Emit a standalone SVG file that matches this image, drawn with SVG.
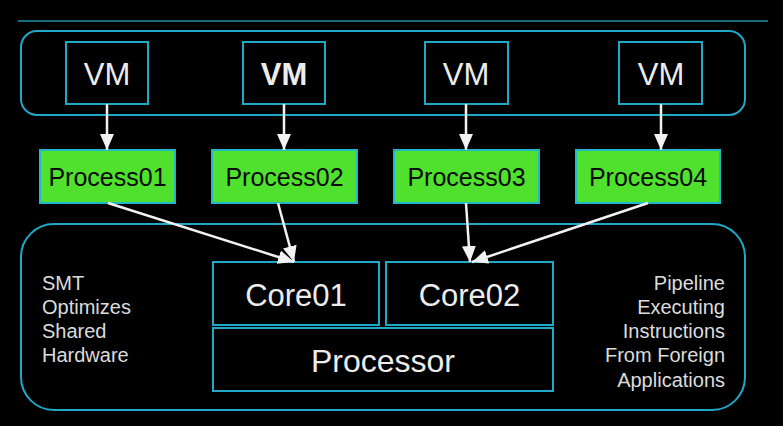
<svg xmlns="http://www.w3.org/2000/svg" width="783" height="426" viewBox="0 0 783 426">
<defs>
<marker id="ah" markerUnits="userSpaceOnUse" markerWidth="16" markerHeight="16" viewBox="0 0 16 14" refX="16" refY="7" orient="auto">
<path d="M0,0 L16,7 L0,14 Z" fill="#f2f2f2"/>
</marker>
<style>
.frame{fill:none;stroke:#20a8c8;stroke-width:2}
.box{fill:#000;stroke:#20a8c8;stroke-width:2}
.proc{fill:#50e02e;stroke:#1fb8c8;stroke-width:2}
.t{font-family:"Liberation Sans",Arial,sans-serif;fill:#ececec;text-anchor:middle}
.pt{font-family:"Liberation Sans",Arial,sans-serif;fill:#0a0a0a;text-anchor:middle;font-size:25px}
.side{font-family:"Liberation Sans",Arial,sans-serif;fill:#dcdcdc;font-size:20px}
.arr{stroke:#f2f2f2;stroke-width:2.5;fill:none;marker-end:url(#ah)}
</style>
</defs>
<rect width="783" height="426" fill="#000"/>
<line x1="18" y1="21" x2="768" y2="21" stroke="#1e8fa6" stroke-width="1.5"/>
<rect id="vm-group" class="frame" x="21" y="31" width="724" height="84" rx="16"/>
<rect id="cpu-group" class="frame" x="21" y="224" width="724" height="186" rx="33"/>
<g id="vm1"><rect class="box" x="66" y="42" width="82" height="62"/><text class="t" x="107" y="85" font-size="31">VM</text></g>
<g id="vm2"><rect class="box" x="243" y="42" width="82" height="62"/><text class="t" x="284" y="85" font-size="31" font-weight="bold">VM</text></g>
<g id="vm3"><rect class="box" x="425" y="42" width="83" height="62"/><text class="t" x="466" y="85" font-size="31">VM</text></g>
<g id="vm4"><rect class="box" x="619" y="42" width="83" height="62"/><text class="t" x="661" y="85" font-size="31">VM</text></g>
<g id="p1"><rect class="proc" x="40" y="150" width="135" height="53"/><text class="pt" x="107.5" y="186">Process01</text></g>
<g id="p2"><rect class="proc" x="212" y="150" width="145" height="53"/><text class="pt" x="284.5" y="186">Process02</text></g>
<g id="p3"><rect class="proc" x="394" y="150" width="145" height="53"/><text class="pt" x="466.5" y="186">Process03</text></g>
<g id="p4"><rect class="proc" x="576" y="150" width="144" height="53"/><text class="pt" x="648" y="186">Process04</text></g>
<g id="core01"><rect class="box" x="213" y="262" width="166" height="63"/><text class="t" x="296" y="306" font-size="31">Core01</text></g>
<g id="core02"><rect class="box" x="386" y="262" width="167" height="63"/><text class="t" x="469.5" y="306" font-size="31">Core02</text></g>
<g id="processor"><rect class="box" x="213" y="328" width="340" height="63"/><text class="t" x="383" y="372" font-size="32">Processor</text></g>
<g id="left-note" class="side">
<text x="42" y="290">SMT</text>
<text x="42" y="314">Optimizes</text>
<text x="42" y="338">Shared</text>
<text x="42" y="362">Hardware</text>
</g>
<g id="right-note" class="side" text-anchor="end">
<text x="725" y="290">Pipeline</text>
<text x="725" y="314">Executing</text>
<text x="725" y="338">Instructions</text>
<text x="725" y="362">From Foreign</text>
<text x="725" y="387">Applications</text>
</g>
<g id="connectors">
<line class="arr" x1="107" y1="104" x2="107" y2="150"/>
<line class="arr" x1="284" y1="104" x2="284" y2="150"/>
<line class="arr" x1="466" y1="104" x2="466" y2="150"/>
<line class="arr" x1="661" y1="104" x2="661" y2="150"/>
<line class="arr" x1="108" y1="203" x2="294" y2="262"/>
<line class="arr" x1="278" y1="203" x2="294" y2="262"/>
<line class="arr" x1="466" y1="203" x2="470" y2="262"/>
<line class="arr" x1="648" y1="203" x2="472" y2="262"/>
</g>
</svg>
